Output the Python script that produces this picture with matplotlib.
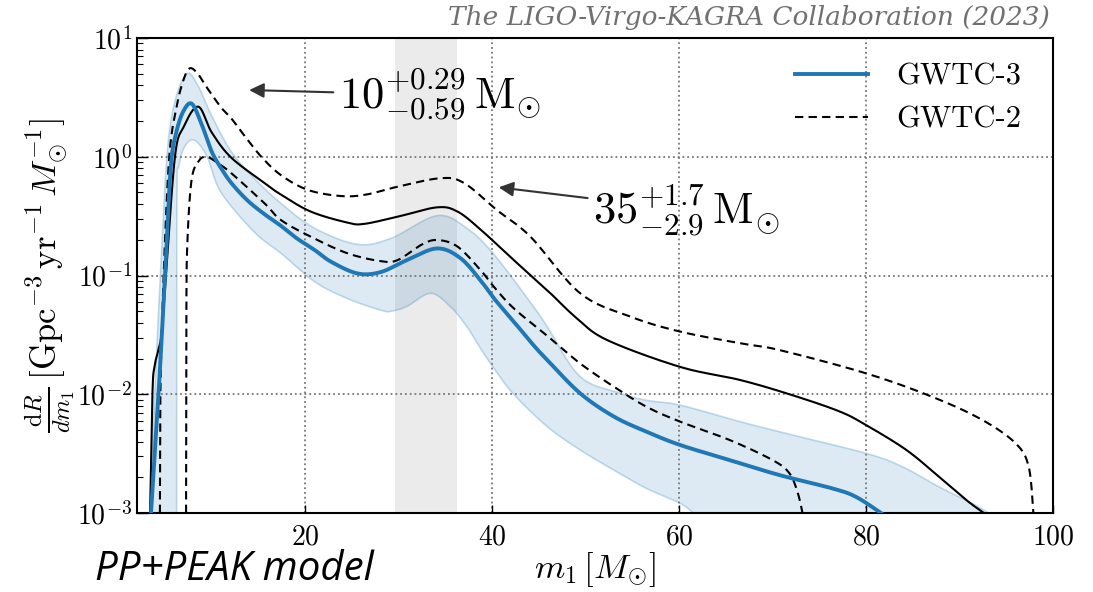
import numpy as np
import matplotlib
matplotlib.use("Agg")
import matplotlib.pyplot as plt
from matplotlib.lines import Line2D

plt.rcParams['font.family'] = 'serif'
plt.rcParams['font.serif'] = ['cmr10', 'DejaVu Serif']
plt.rcParams['mathtext.fontset'] = 'cm'
plt.rcParams['axes.formatter.use_mathtext'] = True
plt.rcParams['axes.unicode_minus'] = False

# GWTC-3 median
g3_x = [3.5, 4.3, 5.0, 5.6, 6.2, 7.0, 7.9, 9.0, 10.0, 11.0, 12.1, 13.8, 15.6, 17.4, 19.0, 21.0,
        22.8, 25.6, 28.1, 30.9, 34.1, 36.6, 38.8, 40.2, 42.3, 44.4, 45.9, 49.4, 53.0, 56.5,
        60.1, 65.4, 70.7, 76.4, 78.9, 81.6]
g3_y = [1e-3, 1e-2, 0.1, 0.8, 1.6, 2.45, 2.78, 1.8, 1.1, 0.8, 0.6, 0.43, 0.33, 0.262, 0.208, 0.164,
        0.13, 0.104, 0.107, 0.135, 0.169, 0.14, 0.09, 0.064, 0.041, 0.026, 0.0194, 0.0102, 0.0065, 0.00484,
        0.00374, 0.00279, 0.00209, 0.00161, 0.00137, 1e-3]
# GWTC-3 90% band
g3_hi_x = [3.45, 3.9, 4.5, 5.2, 6.0, 7.3, 8.5, 10.0, 12.1, 14.6, 17.4, 21.0, 25.6, 29.2, 34.1, 37.3,
           40.2, 44.4, 45.9, 49.4, 53.7, 56.5, 60.1, 66.5, 70.7, 80.0, 83.9, 87.8, 91.3, 93.1]
g3_hi_y = [1e-3, 0.01, 0.1, 1.0, 2.8, 4.98, 4.0, 2.2, 1.1, 0.65, 0.405, 0.25, 0.183, 0.206, 0.319, 0.25,
           0.15, 0.055, 0.037, 0.0141, 0.0102, 0.0089, 0.0081, 0.00588, 0.00484, 0.00318, 0.00245, 0.00166,
           0.00121, 1e-3]
g3_lo_x = [6.24, 6.26, 6.5, 7.2, 8.2, 9.5, 11.0, 14.6, 17.4, 21.0, 24.5, 28.1, 29.2, 30.9, 33.4, 35.5,
           37.3, 38.8, 40.2, 42.3, 45.9, 49.4, 53.0, 56.5, 60.1, 61.5]
g3_lo_y = [1e-3, 0.38, 0.85, 1.25, 1.37, 1.0, 0.5, 0.23, 0.154, 0.0887, 0.064, 0.051, 0.05, 0.055, 0.0708, 0.055,
           0.037, 0.024, 0.0165, 0.0100, 0.00533, 0.0034, 0.0023, 0.00161, 0.00121, 1e-3]
# GWTC-2 median
g2_x = [3.4, 3.65, 3.86, 4.29, 4.64, 5.1, 6.06, 7.0, 8.55, 10.0, 12.1, 15.65, 17.4, 20.6, 24.5, 26.3,
        29.9, 34.1, 36.3, 38.8, 42.3, 45.9, 49.0, 52.3, 60.1, 66.5, 71.8, 77.1, 80.0, 84.3, 87.8,
        90.7, 92.6]
g2_y = [1e-3, 0.01, 0.017, 0.0236, 0.033, 0.1, 1.0, 1.79, 2.64, 1.6, 0.98, 0.6, 0.48, 0.345, 0.279, 0.272,
        0.313, 0.375, 0.345, 0.242, 0.135, 0.075, 0.044, 0.0286, 0.017, 0.0132, 0.0100, 0.0072, 0.0055,
        0.0034, 0.00202, 0.00129, 1e-3]
# GWTC-2 90% bounds
g2_hi_x = [4.45, 4.5, 4.85, 5.45, 6.24, 7.0, 7.66, 8.5, 9.5, 11.0, 12.1, 13.5, 15.3, 17.4, 20.3, 23.8,
           26.5, 29.9, 34.5, 37.0, 40.5, 44.1, 49.4, 54.8, 60.1, 66.5, 70.7, 80.0, 87.1, 92.4, 96.0,
           97.4, 97.9]
g2_hi_y = [1e-3, 0.01, 0.1, 1.0, 2.64, 4.5, 5.56, 5.0, 3.8, 2.6, 2.1, 1.5, 1.0, 0.70, 0.525, 0.467,
           0.48, 0.56, 0.66, 0.6, 0.356, 0.212, 0.071, 0.045, 0.0337, 0.0269, 0.0236, 0.015, 0.0095, 0.0061,
           0.00386, 0.00245, 1e-3]
g2_lo_x = [7.25, 7.28, 7.4, 7.84, 8.6, 9.44, 10.5, 12.1, 15.65, 17.4, 20.6, 24.5, 28.1, 29.9, 32.4, 34.1,
           36.3, 38.8, 40.2, 42.3, 45.9, 49.4, 53.0, 56.5, 60.1, 65.4, 70.0, 71.8, 72.7, 73.2]
g2_lo_y = [1e-3, 0.05, 0.2, 0.64, 0.92, 1.0, 0.9, 0.726, 0.405, 0.293, 0.212, 0.154, 0.132, 0.135, 0.181, 0.199,
           0.175, 0.11, 0.08, 0.053, 0.031, 0.0182, 0.0116, 0.00785, 0.00588, 0.00412, 0.00279, 0.00216,
           0.00147, 1e-3]

peak_band = (29.6, 36.2)
xticks = [20, 40, 60, 80, 100]

blue = '#1f77b4'


def smooth(xs, ys, k=24):
    """Draw a smooth Catmull-Rom curve through the read-off points (in x, log10 y)."""
    x = np.asarray(xs, float)
    ly = np.log10(np.asarray(ys, float))
    n = len(x)
    px = np.concatenate([[x[0]], x, [x[-1]]])
    py = np.concatenate([[ly[0]], ly, [ly[-1]]])
    t = np.linspace(0, 1, k, endpoint=False)[:, None]
    outx, outy = [], []
    for i in range(n - 1):
        j = i + 1
        p0 = np.array([x[i], ly[i]])
        p3 = np.array([x[i + 1], ly[i + 1]])
        c1 = np.array([px[j] + (px[j + 1] - px[j - 1]) / 6, py[j] + (py[j + 1] - py[j - 1]) / 6])
        c2 = np.array([px[j + 1] - (px[j + 2] - px[j]) / 6, py[j + 1] - (py[j + 2] - py[j]) / 6])
        c1[0] = min(max(c1[0], x[i]), x[i + 1])
        c2[0] = min(max(c2[0], x[i]), x[i + 1])
        b = ((1 - t) ** 3) * p0 + 3 * ((1 - t) ** 2) * t * c1 + 3 * (1 - t) * t ** 2 * c2 + t ** 3 * p3
        outx.append(b[:, 0])
        outy.append(b[:, 1])
    outx.append([x[-1]])
    outy.append([ly[-1]])
    return np.concatenate(outx), 10 ** np.concatenate(outy)


fig = plt.figure(figsize=(10.93, 5.92), dpi=100)
ax = fig.add_axes([137/1093, 1-513/592, (1053-137)/1093, (513-38)/592])
ax.set_yscale('log')
ax.set_xlim(2, 100)
ax.set_ylim(1e-3, 1e1)

ax.axvspan(*peak_band, color='#ebebeb', zorder=0, lw=0)

hx, hy = smooth(g3_hi_x, g3_hi_y)
lx, ly_ = smooth(g3_lo_x, g3_lo_y)
ax.fill(np.concatenate([hx, lx[::-1]]), np.concatenate([hy, ly_[::-1]]), color=blue, alpha=0.15,
        lw=0, zorder=1)
ax.plot(hx, hy, color=blue, alpha=0.25, lw=1.2, zorder=1)
ax.plot(lx, ly_, color=blue, alpha=0.25, lw=1.2, zorder=1)

dash = (0, (4, 2.5))
ax.plot(*smooth(g2_x, g2_y), color='black', lw=1.5, zorder=3)
ax.plot(*smooth(g2_hi_x, g2_hi_y), color='black', lw=1.5, ls=dash, zorder=3)
ax.plot(*smooth(g2_lo_x, g2_lo_y), color='black', lw=1.5, ls=dash, zorder=3)
ax.plot(*smooth(g3_x, g3_y), color=blue, lw=2.8, zorder=4)

ax.set_xticks(xticks)
ax.tick_params(axis='both', which='both', direction='in', labelsize=20)
ax.tick_params(axis='y', which='major', length=8, width=1)
ax.tick_params(axis='y', which='minor', length=4, width=0.8)
ax.tick_params(axis='x', which='major', length=6, width=1, pad=8)
ax.grid(True, which='major', ls=':', color='#777777', lw=1.3)
for s in ax.spines.values():
    s.set_linewidth(1.5)

ax.set_xlabel(r'$m_1\,[M_{\odot}]$', fontsize=25, labelpad=0)
ax.set_ylabel(r'$\frac{\mathrm{d}R}{dm_1}\,[\mathrm{Gpc}^{-3}\,\mathrm{yr}^{-1}\,M_{\odot}^{-1}]$',
              fontsize=25, labelpad=0)

handles = [Line2D([], [], color=blue, lw=2.8), Line2D([], [], color='black', lw=1.5, ls=dash)]
ax.legend(handles, ['GWTC-3', 'GWTC-2'], loc='upper right', frameon=False, fontsize=22,
          handlelength=2.4, handletextpad=0.9, bbox_to_anchor=(0.995, 1.005))

arrow = dict(arrowstyle='-|>', color='#333333', lw=1.5, mutation_scale=22)
ax.annotate(r'$10^{+0.29}_{-0.59}\,\mathrm{M}_{\odot}$', xy=(13.7, 3.65), xytext=(23.6, 3.3),
            fontsize=32, ha='left', va='center', arrowprops=arrow)
ax.annotate(r'$35^{+1.7}_{-2.9}\,\mathrm{M}_{\odot}$', xy=(40.4, 0.556), xytext=(50.8, 0.356),
            fontsize=32, ha='left', va='center', arrowprops=arrow)

fig.text(1050/1093, 1-18/592, 'The LIGO-Virgo-KAGRA Collaboration (2023)', ha='right', va='center',
         fontsize=19, style='italic', color='#707070', family='DejaVu Serif')
fig.text(95/1093, 1-570/592, 'PP+PEAK model', ha='left', va='center', fontsize=29,
         style='italic', fontweight='medium', color='black', family='Open Sans')

fig.savefig('out.png', dpi=100)
